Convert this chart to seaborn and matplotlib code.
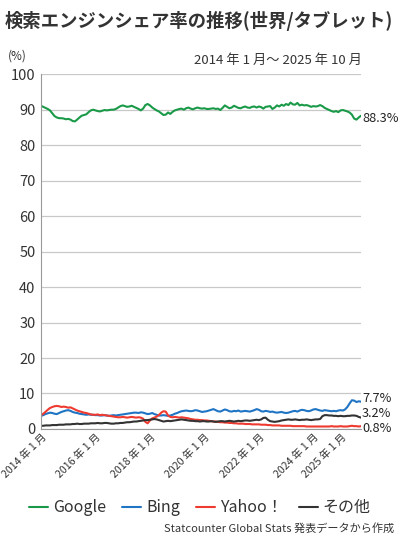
import numpy as np
import pandas as pd
import matplotlib
matplotlib.use("Agg")
import matplotlib.pyplot as plt
from matplotlib import font_manager
import seaborn as sns

sns.set_style("white")
plt.rcParams['font.family'] = ['Noto Sans CJK JP', 'DejaVu Sans']

# monthly shares (%) 2014-01 .. 2025-10
google = [91.1, 90.8, 90.5, 90.2, 89.8, 89.0, 88.2, 87.8, 87.6, 87.6, 87.5, 87.3,
          87.4, 87.2, 86.8, 86.7, 87.2, 87.8, 88.3, 88.5, 88.7, 89.3, 89.8, 90.0,
          89.8, 89.6, 89.5, 89.7, 89.9, 89.8, 89.9, 90.0, 90.0, 90.2, 90.6, 91.0,
          91.2, 91.0, 90.8, 90.9, 91.1, 90.8, 90.5, 90.2, 89.8, 90.3, 91.3, 91.6,
          91.2, 90.6, 90.2, 89.8, 89.5, 89.0, 88.5, 88.6, 89.2, 88.8, 89.4, 89.8,
          90.0, 90.2, 90.3, 90.0, 90.4, 90.6, 90.3, 90.1, 90.4, 90.6, 90.4, 90.3,
          90.4, 90.2, 90.2, 90.3, 90.4, 90.2, 90.3, 89.9, 90.5, 91.2, 90.8, 90.4,
          90.6, 91.1, 90.8, 90.5, 90.4, 90.7, 90.9, 90.6, 90.5, 90.8, 90.9, 90.6,
          90.9, 90.7, 90.3, 90.8, 90.9, 91.0, 90.2, 90.6, 91.2, 90.9, 91.4, 91.1,
          91.6, 91.3, 92.0, 91.5, 91.4, 91.9, 91.2, 91.4, 91.2, 91.3, 91.1, 90.8,
          91.0, 90.9, 91.0, 91.3, 91.0, 90.5, 90.2, 89.9, 89.6, 89.4, 89.6, 89.3,
          89.8, 89.9, 89.7, 89.5, 89.2, 88.6, 87.5, 87.2, 87.8, 88.3]
bing = [3.7, 3.9, 4.2, 4.4, 4.6, 4.5, 4.3, 4.2, 4.5, 4.8, 5.0, 5.2,
        5.3, 5.1, 4.8, 4.6, 4.5, 4.3, 4.2, 4.1, 4.0, 4.1, 4.0, 4.0,
        3.9, 3.9, 3.8, 3.8, 3.9, 3.8, 3.7, 3.8, 3.9, 3.8, 3.9, 4.0,
        4.1, 4.2, 4.3, 4.4, 4.5, 4.6, 4.6, 4.5, 4.7, 4.6, 4.4, 4.2,
        4.3, 4.5, 4.2, 4.0, 3.8, 3.8, 3.9, 3.8, 3.7, 3.8, 4.0, 4.3,
        4.5, 4.8, 5.0, 5.1, 5.2, 5.1, 5.0, 5.1, 5.3, 5.2, 5.0, 4.8,
        4.9, 5.0, 5.2, 5.4, 5.6, 5.3, 5.0, 4.9, 5.2, 5.5, 5.3, 5.0,
        4.9, 5.1, 5.0, 5.2, 4.9, 5.0, 5.1, 5.0, 4.9, 5.1, 5.3, 5.6,
        5.4, 5.0, 4.9, 5.1, 5.0, 4.8, 4.9, 4.7, 4.6, 4.7, 4.8, 4.6,
        4.5, 4.6, 4.8, 5.0, 5.1, 4.9, 5.2, 5.4, 5.3, 5.1, 5.0, 5.2,
        5.5, 5.6, 5.4, 5.2, 5.1, 5.3, 5.2, 5.1, 5.0, 5.1, 5.0, 5.2,
        5.3, 5.2, 5.5, 6.2, 7.2, 8.1, 8.0, 7.6, 7.8, 7.7]
yahoo = [3.9, 4.3, 4.8, 5.4, 5.9, 6.2, 6.4, 6.5, 6.4, 6.2, 6.3, 6.2,
         6.0, 6.1, 5.8, 5.5, 5.2, 5.0, 4.8, 4.6, 4.5, 4.3, 4.1, 4.0,
         4.0, 4.1, 3.9, 4.0, 3.9, 3.8, 3.7, 3.6, 3.5, 3.4, 3.3, 3.3,
         3.4, 3.3, 3.2, 3.3, 3.4, 3.3, 3.2, 3.3, 3.2, 2.9, 2.0, 1.6,
         2.4, 3.0, 3.2, 3.5, 3.9, 4.6, 5.0, 4.9, 3.8, 3.4, 3.3, 3.4,
         3.3, 3.2, 3.3, 3.2, 3.1, 3.0, 2.8, 2.7, 2.6, 2.6, 2.5, 2.5,
         2.4, 2.4, 2.3, 2.2, 2.1, 2.1, 2.0, 1.9, 1.9, 1.8, 1.8, 1.7,
         1.7, 1.6, 1.6, 1.5, 1.5, 1.5, 1.4, 1.4, 1.4, 1.3, 1.3, 1.3,
         1.3, 1.2, 1.2, 1.2, 1.1, 1.1, 1.0, 1.0, 1.0, 1.0, 0.9, 0.9,
         0.9, 0.9, 0.9, 0.8, 0.8, 0.8, 0.8, 0.8, 0.8, 0.7, 0.7, 0.7,
         0.7, 0.7, 0.7, 0.7, 0.7, 0.7, 0.7, 0.7, 0.8, 0.7, 0.7, 0.7,
         0.8, 0.7, 0.7, 0.7, 0.8, 0.9, 0.8, 0.8, 0.7, 0.8]
other = [0.9, 0.9, 1.0, 1.0, 1.0, 1.1, 1.1, 1.1, 1.2, 1.2, 1.2, 1.3,
         1.3, 1.3, 1.4, 1.4, 1.5, 1.4, 1.4, 1.5, 1.5, 1.5, 1.6, 1.6,
         1.6, 1.7, 1.6, 1.6, 1.7, 1.7, 1.6, 1.5, 1.5, 1.6, 1.6, 1.7,
         1.7, 1.8, 1.9, 1.9, 2.0, 2.1, 2.1, 2.2, 2.3, 2.4, 2.5, 2.5,
         2.6, 2.7, 2.8, 2.7, 2.5, 2.3, 2.1, 2.2, 2.3, 2.2, 2.3, 2.4,
         2.5, 2.6, 2.7, 2.6, 2.5, 2.4, 2.3, 2.3, 2.2, 2.2, 2.1, 2.2,
         2.2, 2.1, 2.1, 2.2, 2.1, 2.0, 2.1, 2.2, 2.2, 2.1, 2.2, 2.3,
         2.2, 2.1, 2.2, 2.3, 2.2, 2.3, 2.4, 2.4, 2.3, 2.4, 2.5, 2.6,
         2.5, 2.7, 3.1, 3.2, 2.6, 2.2, 2.1, 2.0, 2.1, 2.2, 2.4, 2.5,
         2.6, 2.7, 2.6, 2.6, 2.7, 2.6, 2.5, 2.6, 2.6, 2.7, 2.6, 2.5,
         2.6, 2.7, 2.7, 2.8, 3.6, 3.9, 3.9, 3.8, 3.8, 3.7, 3.7, 3.6,
         3.7, 3.6, 3.6, 3.7, 3.7, 3.8, 3.8, 3.7, 3.4, 3.2]

months = pd.date_range("2014-01-01", "2025-10-01", freq="MS")
names = ["Google", "Bing", "Yahoo！", "その他"]
colors = ["#1a9a48", "#1f74c4", "#ee3a2f", "#333333"]
label_ticks = ["2014-01-01", "2016-01-01", "2018-01-01", "2020-01-01",
               "2022-01-01", "2024-01-01", "2025-01-01"]

df = pd.DataFrame({"month": months, "Google": google, "Bing": bing,
                   "Yahoo！": yahoo, "その他": other})
long = df.melt(id_vars="month", var_name="engine", value_name="share")

# narrow face for the date labels if there is one
avail = {f.name for f in font_manager.fontManager.ttflist}
if "Liberation Sans Narrow" in avail:
    tick_fam, tick_size = ["Liberation Sans Narrow", "Noto Sans CJK JP"], 9.3
else:
    tick_fam, tick_size = ["Noto Sans CJK JP", "DejaVu Sans"], 7.6

fig = plt.figure(figsize=(4.0, 5.4), dpi=100)
ax = fig.add_axes([0.1025, 0.2056, 0.8, 0.657])

sns.lineplot(data=long, x="month", y="share", hue="engine", hue_order=names,
             palette=colors, linewidth=1.5, ax=ax, legend=False)

ax.set_ylim(0, 100)
ax.set_yticks(range(0, 101, 10))
ax.set_xlim(months[0], months[-1])
ax.grid(axis="y", color="#c8c8c8", linewidth=0.9)
ax.set_axisbelow(True)
for s in ["top", "right"]:
    ax.spines[s].set_visible(False)
ax.spines["left"].set_color("#999999")
ax.spines["bottom"].set_color("#999999")
ax.set_xlabel("")
ax.set_ylabel("")
ax.tick_params(axis="y", length=0, labelsize=10.5, labelcolor="#333333", pad=4)

half = pd.date_range("2014-01-01", "2025-10-01", freq="6MS")
ax.set_xticks(half)
lab_set = set(pd.to_datetime(label_ticks))
ax.set_xticklabels([f"{d.year} 年 1 月" if d in lab_set else "" for d in half],
                   rotation=45, ha="right", rotation_mode="anchor")
ax.tick_params(axis="x", direction="in", length=5, color="#aaaaaa",
               labelcolor="#333333", pad=2)
for t in ax.get_xticklabels():
    t.set_family(tick_fam)
    t.set_fontsize(tick_size)

# end labels
ends = [google[-1], bing[-1], other[-1], yahoo[-1]]
end_y = [google[-1] - 0.8, bing[-1] + 1.0, other[-1] + 1.3, yahoo[-1] - 0.8]
for v, yy in zip(ends, end_y):
    ax.text(1.003, yy, f"{v}%", transform=ax.get_yaxis_transform(),
            fontsize=9.2, color="#222222", va="center", ha="left")

fig.text(0.012, 0.962, "検索エンジンシェア率の推移(世界/タブレット)",
         fontsize=13.2, fontweight="bold", color="#333333", va="center")
fig.text(0.02, 0.896, "(%)", fontsize=8.5, color="#333333", va="center")
fig.text(0.905, 0.888, "2014 年 1 月～ 2025 年 10 月", fontsize=9.5,
         color="#333333", va="center", ha="right")

handles = [plt.Line2D([], [], color=c, linewidth=1.5) for c in colors]
fig.legend(handles, names, loc="center", bbox_to_anchor=(0.5, 0.06), ncol=4,
           frameon=False, fontsize=11.5, handlelength=1.2, handletextpad=0.3,
           columnspacing=1.0, labelcolor="#333333")
fig.text(0.985, 0.021, "Statcounter Global Stats 発表データから作成",
         fontsize=8, color="#333333", ha="right", va="center")

fig.savefig("out.png", dpi=100)
